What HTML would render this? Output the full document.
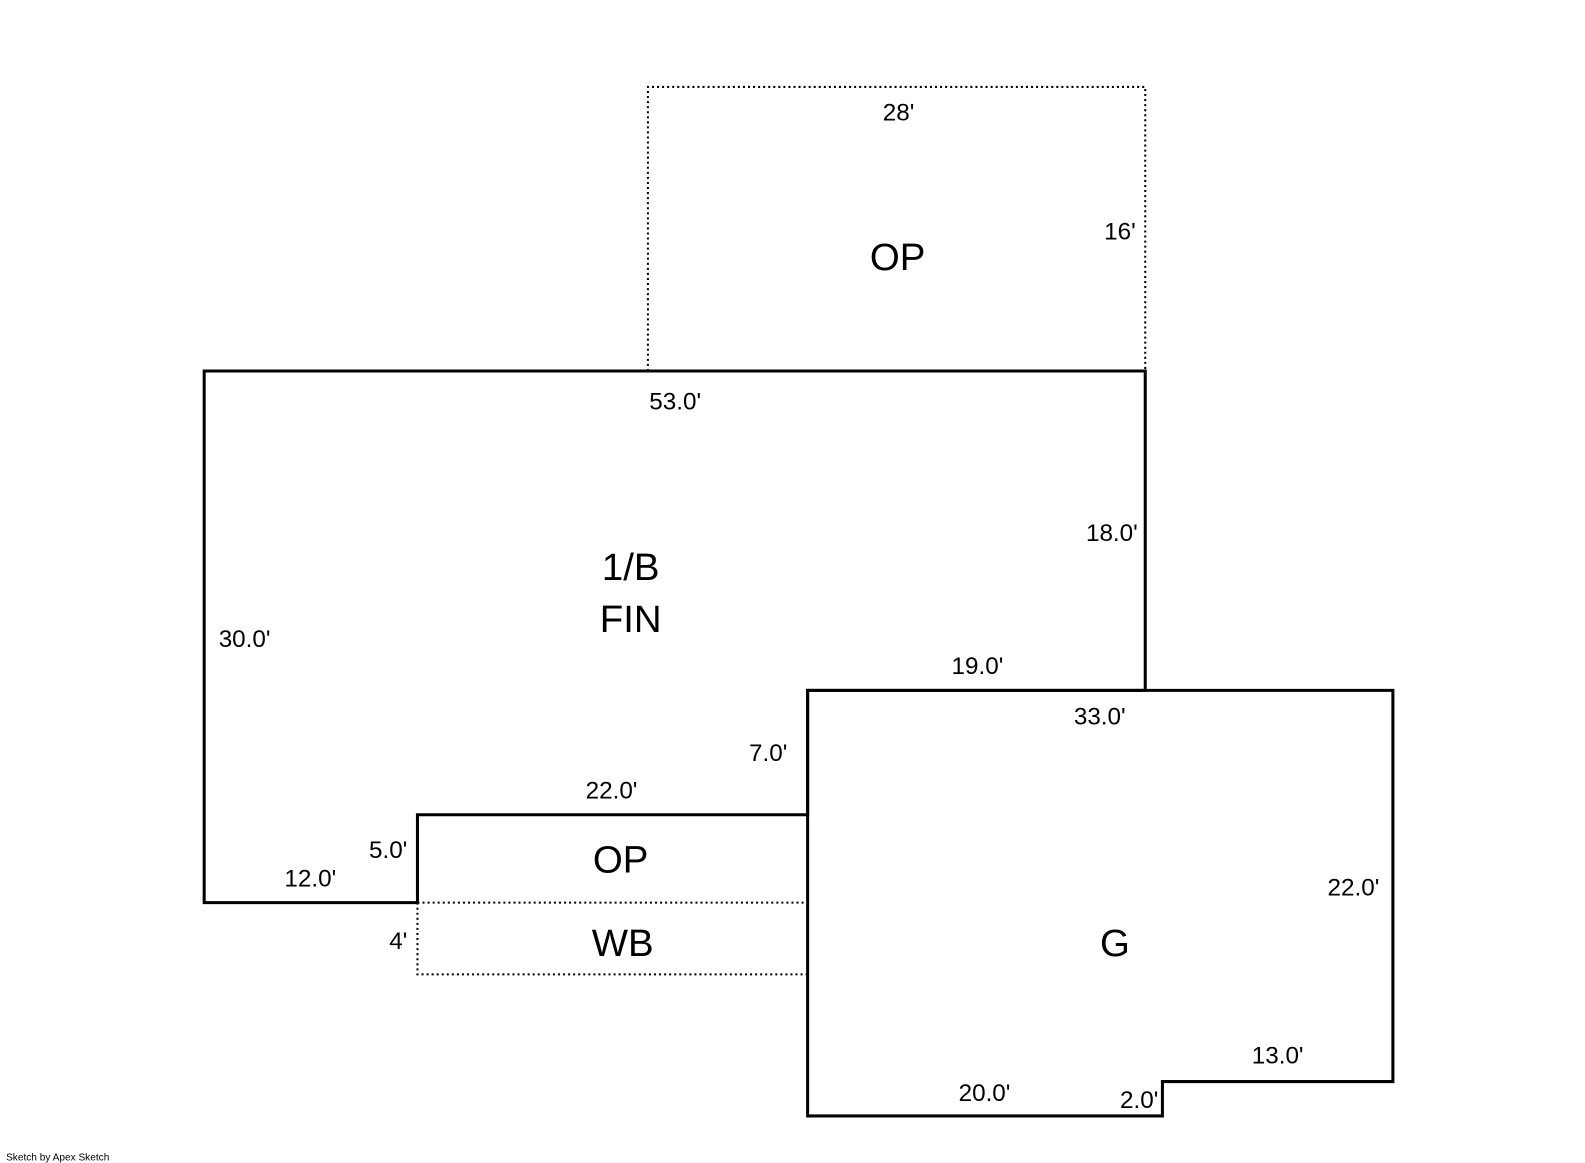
<!DOCTYPE html>
<html><head><meta charset="utf-8"><style>
html,body{margin:0;padding:0;background:#fff;}
svg{display:block;}
text{font-family:"Liberation Sans",Arial,sans-serif;fill:#000;}
.d{font-size:24px;}
.l{font-size:38px;}
</style></head><body>
<svg width="1585" height="1163" viewBox="0 0 1585 1163" xmlns="http://www.w3.org/2000/svg">
<g transform="scale(1.0108)">
<g fill="none" stroke="#000">
<path d="M641,367 V86 H1133 V367" stroke-width="2" stroke-dasharray="2,3"/>
<path d="M413,893 H799 M413,893 V964 H799" stroke-width="2" stroke-dasharray="2,3"/>
<path d="M202,367 H1133 V683 H799 V806 H413 V893 H202 Z" stroke-width="3"/>
<path d="M799,683 H1378 V1070 H1150 V1104 H799 Z" stroke-width="3"/>
</g>
<g class="d" text-anchor="middle">
<text x="889" y="119">28'</text>
<text x="1108" y="237">16'</text>
<text x="668" y="405">53.0'</text>
<text x="1100" y="535">18.0'</text>
<text x="242" y="640">30.0'</text>
<text x="967" y="667">19.0'</text>
<text x="1088" y="717">33.0'</text>
<text x="760" y="753">7.0'</text>
<text x="605" y="790">22.0'</text>
<text x="384" y="849">5.0'</text>
<text x="307" y="877">12.0'</text>
<text x="1339" y="886">22.0'</text>
<text x="394" y="939">4'</text>
<text x="1264" y="1052">13.0'</text>
<text x="974" y="1089">20.0'</text>
<text x="1127" y="1096">2.0'</text>
</g>
<g class="l" text-anchor="middle">
<text x="888" y="267">OP</text>
<text x="624" y="574">1/B</text>
<text x="624" y="625">FIN</text>
<text x="614" y="863">OP</text>
<text x="616" y="946">WB</text>
<text x="1103" y="946">G</text>
</g>
<text x="6" y="1148" style="font-size:10px;">Sketch by Apex Sketch</text>
</g>
</svg>
</body></html>
